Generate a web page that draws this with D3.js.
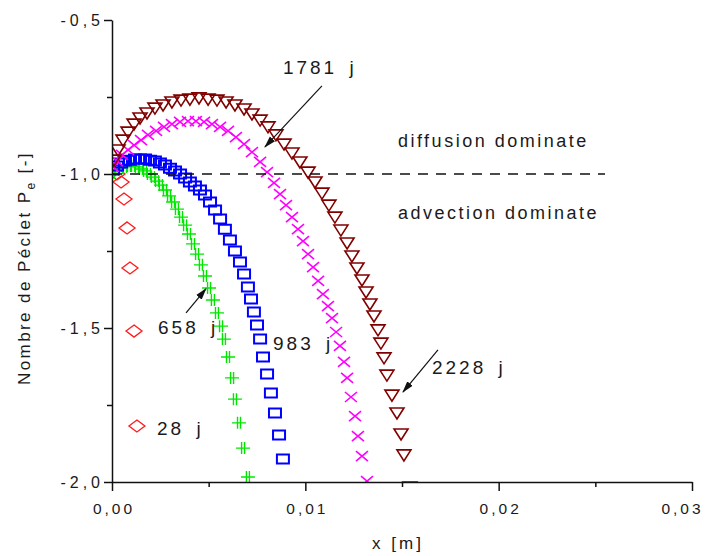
<!DOCTYPE html>
<html><head><meta charset="utf-8">
<script src="https://cdn.jsdelivr.net/npm/d3@7"></script>
<style>
body{margin:0;background:#fff}
svg{display:block}
text{font-family:"Liberation Sans",Arial,sans-serif;fill:#1a1a1a}
</style>
</head><body>
<svg id="c" width="706" height="556"></svg>
<script>
// ---------- axis ticks ----------
const xMajor = [0, 0.01, 0.02, 0.03];
const xLabels = ["0,00", "0,01", "0,02", "0,03"];
const xMinor = [0.005, 0.015, 0.025];
const yMajor = [-2, -1.5, -1, -0.5];
const yLabels = ["-2,0", "-1,5", "-1,0", "-0,5"];
const yMinor = [-1.75, -1.25, -0.75];

// ---------- series (x in m, Péclet number) ----------
const x28 = [0.00026, 0.00047, 0.00062, 0.00078, 0.00093, 0.00114, 0.00129];
const y28 = [-1.000, -1.026, -1.081, -1.175, -1.305, -1.510, -1.818];

const x658 = [0.00005,0.00026,0.00047,0.00067,0.00088,0.00109,0.00129,0.0015,0.00171,0.00191,0.00212,0.00233,0.00253,0.00274,0.00295,0.00316,0.00336,0.00357,0.00378,0.00398,0.00419,0.0044,0.0046,0.00481,0.00502,0.00522,0.00543,0.00564,0.00579,0.006,0.00621,0.00636,0.00657,0.00678,0.00703];
const y658 = [-0.997,-0.987,-0.981,-0.977,-0.974,-0.974,-0.977,-0.984,-0.990,-1.000,-1.010,-1.023,-1.036,-1.052,-1.071,-1.091,-1.114,-1.140,-1.166,-1.195,-1.227,-1.260,-1.295,-1.331,-1.370,-1.409,-1.451,-1.494,-1.536,-1.594,-1.662,-1.731,-1.808,-1.890,-1.984];

const x983 = [0.00005,0.00026,0.00047,0.00067,0.00093,0.00119,0.00145,0.00171,0.00197,0.00222,0.00248,0.00274,0.003,0.00326,0.00352,0.00378,0.00403,0.00429,0.00455,0.00481,0.00507,0.00533,0.00559,0.00584,0.0061,0.00636,0.00662,0.00683,0.00703,0.00719,0.00734,0.0075,0.00766,0.00781,0.00802,0.00822,0.00843,0.00864,0.00884];
const y983 = [-0.987,-0.974,-0.964,-0.958,-0.955,-0.951,-0.951,-0.951,-0.955,-0.958,-0.964,-0.971,-0.981,-0.990,-1.000,-1.013,-1.026,-1.039,-1.052,-1.068,-1.091,-1.117,-1.146,-1.179,-1.214,-1.250,-1.286,-1.325,-1.367,-1.406,-1.448,-1.490,-1.536,-1.594,-1.649,-1.711,-1.776,-1.847,-1.925];

const x1781 = [0.00005,0.00026,0.00052,0.00083,0.00114,0.0015,0.00186,0.00228,0.00269,0.0031,0.00352,0.00393,0.00434,0.00476,0.00517,0.00559,0.006,0.00641,0.00683,0.00724,0.00766,0.00802,0.00838,0.00869,0.009,0.00931,0.00962,0.00988,0.01014,0.0104,0.01066,0.01091,0.01117,0.01138,0.01159,0.01179,0.012,0.01216,0.01236,0.01257,0.01272,0.01293,0.01319];
const y1781 = [-0.977,-0.958,-0.938,-0.922,-0.906,-0.890,-0.873,-0.860,-0.847,-0.838,-0.831,-0.828,-0.828,-0.831,-0.838,-0.847,-0.860,-0.880,-0.903,-0.929,-0.961,-0.994,-1.029,-1.065,-1.101,-1.140,-1.179,-1.218,-1.260,-1.302,-1.347,-1.390,-1.429,-1.468,-1.513,-1.558,-1.610,-1.662,-1.724,-1.786,-1.851,-1.916,-1.997];

const x2228 = [0.0001,0.00031,0.00057,0.00083,0.00114,0.00145,0.00181,0.00222,0.00264,0.0031,0.00357,0.00403,0.0045,0.00497,0.00543,0.0059,0.00636,0.00683,0.00724,0.00766,0.00807,0.00848,0.0089,0.00931,0.00972,0.01014,0.0105,0.01086,0.01122,0.01153,0.01184,0.01216,0.01241,0.01267,0.01293,0.01314,0.01334,0.01355,0.01376,0.01391,0.01407,0.01422,0.01448,0.01474,0.01495,0.0151,0.01541];
const y2228 = [-0.955,-0.922,-0.890,-0.864,-0.838,-0.818,-0.802,-0.786,-0.776,-0.766,-0.760,-0.757,-0.753,-0.757,-0.760,-0.766,-0.776,-0.789,-0.805,-0.825,-0.847,-0.873,-0.903,-0.932,-0.961,-0.994,-1.026,-1.062,-1.101,-1.140,-1.182,-1.224,-1.266,-1.305,-1.344,-1.383,-1.422,-1.461,-1.506,-1.549,-1.597,-1.653,-1.718,-1.776,-1.844,-1.912,-2.016];

// ---------- annotations (data units) ----------
const labelText = ["1781 j", "2228 j", "983 j", "658 j", "28 j"];
const labelX = [0.00884, 0.01655, 0.00833, 0.00238, 0.00233];
const labelY = [-0.675, -1.649, -1.571, -1.519, -1.847];
const arrowFromX = [0.01086, 0.01686, 0.00383];
const arrowFromY = [-0.714, -1.571, -1.451];
const arrowToX = [0.00791, 0.01505, 0.00486];
const arrowToY = [-0.912, -1.708, -1.373];
const regionText = ["diffusion dominate", "advection dominate"];
const regionX = [0.01479, 0.01479];
const regionY = [-0.912, -1.146];
const threshold = -1.0;
const thresholdEnd = 0.0255;

// ---------- drawing ----------
const svg = d3.select("#c");
const x = d3.scaleLinear().domain([0, 0.03]).range([112, 692]);
const y = d3.scaleLinear().domain([-2, -0.5]).range([482, 20]);

const defs = svg.append("defs");
defs.append("clipPath").attr("id", "clip")
  .append("rect").attr("x", x(0)).attr("y", y(-0.5) - 20)
  .attr("width", x(0.03) - x(0) + 20).attr("height", y(-2) - y(-0.5) + 20);

defs.append("marker").attr("id", "ah")
  .attr("viewBox", "0 0 12 8").attr("refX", 11).attr("refY", 4)
  .attr("markerWidth", 12).attr("markerHeight", 8).attr("markerUnits", "userSpaceOnUse")
  .attr("orient", "auto")
  .append("path").attr("d", "M0,0.5 L12,4 L0,7.5 Z").attr("fill", "#111");

const series = [
  {xs: x28, ys: y28, color: "#ff1a1a", shape: "diamond"},
  {xs: x658, ys: y658, color: "#00e600", shape: "plus"},
  {xs: x983, ys: y983, color: "#0000ff", shape: "square"},
  {xs: x1781, ys: y1781, color: "#ff00ff", shape: "cross"},
  {xs: x2228, ys: y2228, color: "#800000", shape: "tri"}
];
const shapes = {
  diamond: "M0,-6 L8,0 L0,6 L-8,0 Z",
  plus: "M-7,0 L7,0 M-1.5,-6 L-1.5,6 M1.5,-6 L1.5,6",
  square: "M-6,-4.5 L6,-4.5 L6,4.5 L-6,4.5 Z",
  cross: "M-6,-5 L6,5 M-6,5 L6,-5",
  tri: "M-7,-5 L7,-5 L0,6 Z"
};
const widths = {diamond: 1.3, plus: 1.4, square: 2, cross: 1.6, tri: 1.6};

const plot = svg.append("g").attr("clip-path", "url(#clip)");
series.forEach(s => {
  const pts = d3.zip(s.xs, s.ys);
  plot.append("g").selectAll("path").data(pts).join("path")
    .attr("transform", d => `translate(${x(d[0])},${y(d[1])})`)
    .attr("d", shapes[s.shape])
    .attr("fill", "none")
    .attr("stroke", s.color)
    .attr("stroke-width", widths[s.shape]);
});

// threshold dashed line
svg.append("line")
  .attr("x1", x(0)).attr("x2", x(thresholdEnd))
  .attr("y1", y(threshold)).attr("y2", y(threshold))
  .attr("stroke", "#111").attr("stroke-width", 1.5).attr("stroke-dasharray", "10,8");

// axes
const gx = svg.append("g").attr("transform", `translate(0,${y(-2)})`)
  .call(d3.axisBottom(x).tickValues(xMajor).tickFormat((d, i) => xLabels[i]).tickSize(9).tickSizeOuter(0));
svg.append("g").attr("transform", `translate(0,${y(-2)})`)
  .call(d3.axisBottom(x).tickValues(xMinor).tickFormat("").tickSize(5).tickSizeOuter(0))
  .call(g => g.select(".domain").remove());
const gy = svg.append("g").attr("transform", `translate(${x(0)},0)`)
  .call(d3.axisLeft(y).tickValues(yMajor).tickFormat((d, i) => yLabels[i]).tickSize(8).tickSizeOuter(0));
svg.append("g").attr("transform", `translate(${x(0)},0)`)
  .call(d3.axisLeft(y).tickValues(yMinor).tickFormat("").tickSize(5).tickSizeOuter(0))
  .call(g => g.select(".domain").remove());

svg.selectAll(".domain, .tick line").attr("stroke", "#111").attr("stroke-width", 1.5);
gx.selectAll("text").attr("y", 32).attr("dy", 0)
  .attr("dx", (d, i) => i === xMajor.length - 1 ? -10 : 1.5)
  .style("font-size", "15.5px").style("letter-spacing", "3px")
  .style("font-family", '"Liberation Sans",Arial,sans-serif').attr("fill", "#1a1a1a");
gy.selectAll("text").attr("x", -8).attr("dy", "0.36em")
  .style("font-size", "16px").style("letter-spacing", "4px")
  .style("font-family", '"Liberation Sans",Arial,sans-serif').attr("fill", "#1a1a1a");

// axis titles
svg.append("text").attr("x", 398).attr("y", 549).attr("text-anchor", "middle")
  .style("font-size", "17px").style("letter-spacing", "3px").text("x [m]");
const yt = svg.append("text").attr("transform", "translate(30,268) rotate(-90)")
  .attr("text-anchor", "middle").style("font-size", "17px").style("letter-spacing", "2.4px");
yt.append("tspan").text("Nombre de Péclet P");
yt.append("tspan").attr("dy", 5).style("font-size", "12px").text("e");
yt.append("tspan").attr("dy", -5).text(" [-]");

// region labels
svg.append("g").selectAll("text").data(regionText).join("text")
  .attr("x", (d, i) => x(regionX[i])).attr("y", (d, i) => y(regionY[i]))
  .style("font-size", "18px").style("letter-spacing", "2.5px").text(d => d);

// series labels
svg.append("g").selectAll("text").data(labelText).join("text")
  .attr("x", (d, i) => x(labelX[i])).attr("y", (d, i) => y(labelY[i]))
  .style("font-size", "19px").style("letter-spacing", "3px").style("word-spacing", "4px")
  .text(d => d);

// arrows
svg.append("g").selectAll("line").data(arrowFromX).join("line")
  .attr("x1", (d, i) => x(arrowFromX[i])).attr("y1", (d, i) => y(arrowFromY[i]))
  .attr("x2", (d, i) => x(arrowToX[i])).attr("y2", (d, i) => y(arrowToY[i]))
  .attr("stroke", "#111").attr("stroke-width", 1.2).attr("marker-end", "url(#ah)");
</script>
</body></html>
